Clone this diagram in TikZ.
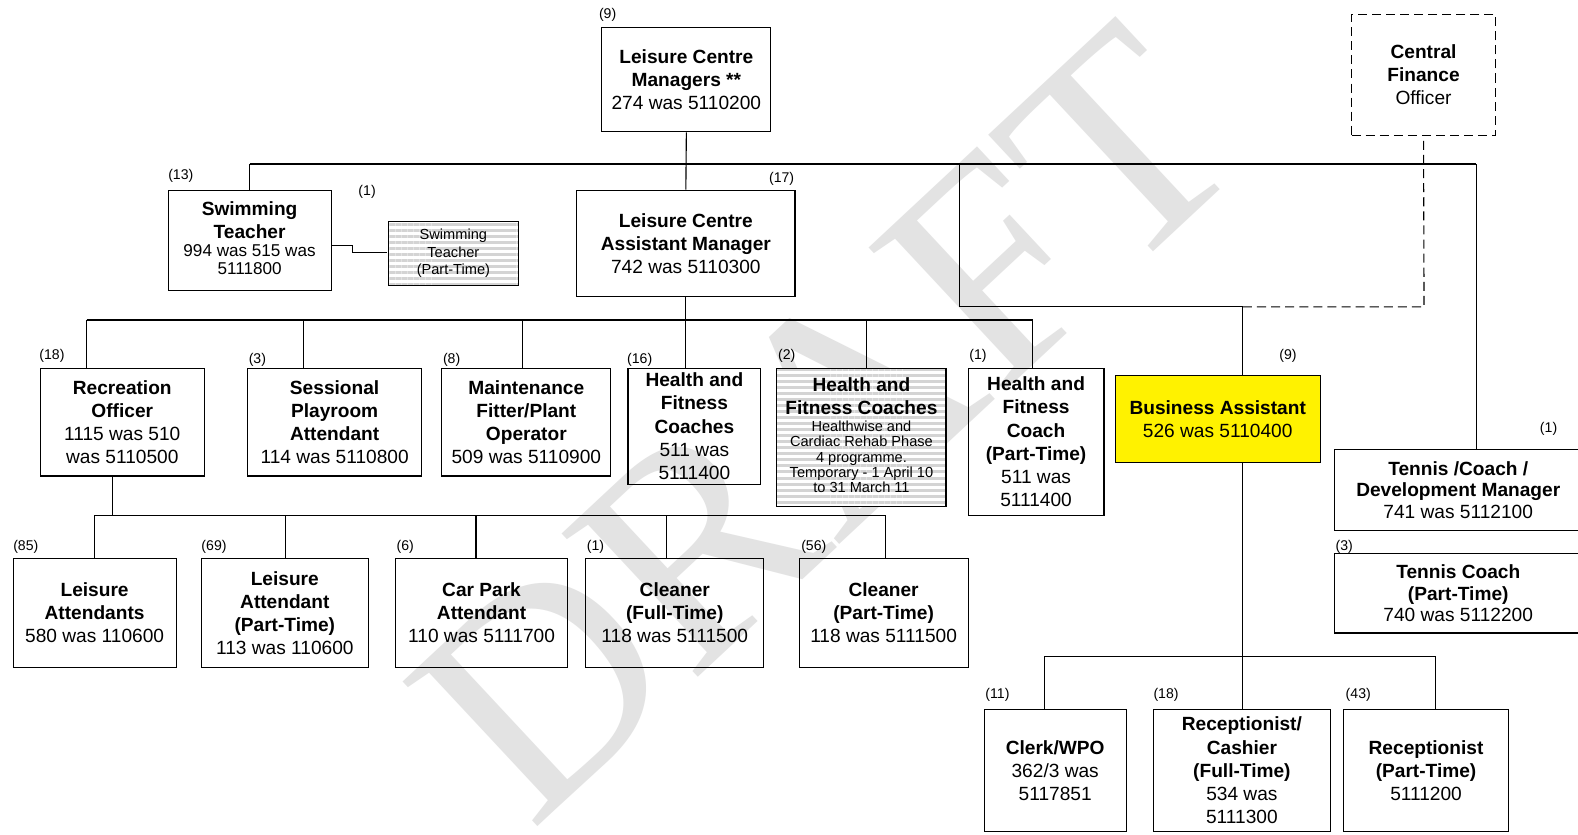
\documentclass[tikz,border=0pt]{standalone}
\usepackage{fontspec}
\setmainfont{Liberation Sans}
\newfontfamily\wmfont{Liberation Serif}
\usetikzlibrary{patterns.meta}
\tikzset{
  box/.style={draw=black, line width=1.1pt, align=center, inner sep=1pt,
    font=\fontsize{19}{23}\selectfont},
  hatch/.style={preaction={fill=white}, pattern={Lines[angle=0,distance=6pt,line width=3pt]}, pattern color=black!17},
  cnt/.style={anchor=west, inner sep=0pt, font=\fontsize{14}{16}\selectfont},
  ln/.style={draw=black, line width=1.1pt},
  dln/.style={draw=black, line width=1.1pt, dash pattern=on 9pt off 5pt}
}
\begin{document}
\begin{tikzpicture}[x=1pt,y=-1pt]
\useasboundingbox (0,0) rectangle (1568,829);
\fill[white] (0,0) rectangle (1568,829);
% watermark
\node[rotate=43, text=black!11, font=\wmfont\fontsize{300}{300}\selectfont, inner sep=0pt] (wm) at (820,420) {DRAFT};

% boxes
\node[box, minimum width=168, minimum height=104] (mgr) at (682,79) {\textbf{Leisure Centre}\\\textbf{Managers **}\\274 was 5110200};
\node[box, dln, minimum width=143, minimum height=121] (cfo) at (1414.5,74.5) {\textbf{Central}\\\textbf{Finance}\\Officer};
\node[box, minimum width=162, minimum height=100] (swim) at (248,239) {\textbf{Swimming}\\\textbf{Teacher}\\[-5pt]{\fontsize{17}{17}\selectfont\begin{tabular}[t]{@{}c@{}}994 was 515 was\\5111800\end{tabular}}};
\node[box, hatch, minimum width=129, minimum height=64, font=\fontsize{14.5}{17.5}\selectfont] (swimpt) at (450.5,252) {Swimming\\Teacher\\(Part-Time)};
\node[box, minimum width=217, minimum height=106] (asst) at (681.5,242) {\textbf{Leisure Centre}\\\textbf{Assistant Manager}\\742 was 5110300};

\node[box, minimum width=163, minimum height=107] (rec) at (121.5,419.5) {\textbf{Recreation}\\\textbf{Officer}\\1115 was 510\\was 5110500};
\node[box, minimum width=173, minimum height=107] (sess) at (332.5,419.5) {\textbf{Sessional}\\\textbf{Playroom}\\\textbf{Attendant}\\114 was 5110800};
\node[box, minimum width=168, minimum height=107] (maint) at (523,419.5) {\textbf{Maintenance}\\\textbf{Fitter/Plant}\\\textbf{Operator}\\509 was 5110900};
\node[box, minimum width=132, minimum height=115] (hfc) at (690,423.5) {\textbf{Health and}\\\textbf{Fitness}\\\textbf{Coaches}\\511 was\\5111400};
\node[box, hatch, minimum width=168, minimum height=137] (hfct) at (856,434.5) {\textbf{Health and}\\\textbf{Fitness Coaches}\\[-6pt]{\fontsize{14.5}{15}\selectfont\begin{tabular}[t]{@{}c@{}}Healthwise and\\Cardiac Rehab Phase\\4 programme.\\Temporary - 1 April 10\\to 31 March 11\end{tabular}}};
\node[box, minimum width=135, minimum height=146] (hfcpt) at (1029.5,439) {\textbf{Health and}\\\textbf{Fitness}\\\textbf{Coach}\\\textbf{(Part-Time)}\\511 was\\5111400};
\node[box, fill=yellow, minimum width=204, minimum height=87] (bus) at (1210,416.5) {\textbf{Business Assistant}\\526 was 5110400};
\node[box, minimum width=246, minimum height=80, font=\fontsize{19}{21.5}\selectfont] (ten) at (1449,487) {\textbf{Tennis /Coach /}\\\textbf{Development Manager}\\741 was 5112100};
\node[box, minimum width=246, minimum height=79, font=\fontsize{19}{21.5}\selectfont] (tenpt) at (1449,589.5) {\textbf{Tennis Coach}\\\textbf{(Part-Time)}\\740 was 5112200};

\node[box, minimum width=162, minimum height=108] (la) at (94,609) {\textbf{Leisure}\\\textbf{Attendants}\\580 was 110600};
\node[box, minimum width=166, minimum height=108] (lapt) at (283,609) {\textbf{Leisure}\\\textbf{Attendant}\\\textbf{(Part-Time)}\\113 was 110600};
\node[box, minimum width=171, minimum height=108] (cp) at (478.5,609) {\textbf{Car Park}\\\textbf{Attendant}\\110 was 5111700};
\node[box, minimum width=177, minimum height=108] (clft) at (670.5,609) {\textbf{Cleaner}\\\textbf{(Full-Time)}\\118 was 5111500};
\node[box, minimum width=168, minimum height=108] (clpt) at (878,609) {\textbf{Cleaner}\\\textbf{(Part-Time)}\\118 was 5111500};

\node[box, minimum width=141, minimum height=121] (clerk) at (1048.5,765.5) {\textbf{Clerk/WPO}\\362/3 was\\5117851};
\node[box, minimum width=176, minimum height=121] (rcft) at (1234,765.5) {\textbf{Receptionist/}\\\textbf{Cashier}\\\textbf{(Full-Time)}\\534 was\\5111300};
\node[box, minimum width=164, minimum height=121] (rcpt) at (1417,765.5) {\textbf{Receptionist}\\\textbf{(Part-Time)}\\5111200};

% counts
\node[cnt] (c1) at (595,15) {(9)};
\node[cnt] (c2) at (167,175) {(13)};
\node[cnt] (c3) at (356,191) {(1)};
\node[cnt] (c4) at (764,178) {(17)};
\node[cnt] (c5) at (39,354) {(18)};
\node[cnt] (c6) at (247,358) {(3)};
\node[cnt] (c7) at (440,358) {(8)};
\node[cnt] (c8) at (623,358) {(16)};
\node[cnt] (c9) at (773,354) {(2)};
\node[cnt] (c10) at (963,354) {(1)};
\node[cnt] (c11) at (1271,354) {(9)};
\node[cnt] (c12) at (1530,426) {(1)};
\node[cnt] (c13) at (1327,543) {(3)};
\node[cnt] (c14) at (13,543) {(85)};
\node[cnt] (c15) at (200,543) {(69)};
\node[cnt] (c16) at (394,543) {(6)};
\node[cnt] (c17) at (583,543) {(1)};
\node[cnt] (c18) at (796,543) {(56)};
\node[cnt] (c19) at (979,690) {(11)};
\node[cnt] (c20) at (1146,690) {(18)};
\node[cnt] (c21) at (1337,690) {(43)};

% junction coordinates
\coordinate (b1L) at (248,163);
\coordinate (b1R) at (1467,163);
\coordinate (bx1) at (953,163);
\coordinate (bx2) at (953,305);
\coordinate (bx3) at (1235,305);
\coordinate (bx4) at (1415,305);
\coordinate (b2L) at (86,318);
\coordinate (b2R) at (1026,318);
\coordinate (d2b) at (302,318);
\coordinate (d2c) at (519,318);
\coordinate (d2e) at (861,318);
\coordinate (r3) at (112,473);
\coordinate (b3L) at (94,512);
\coordinate (b3R) at (880,512);
\coordinate (d3b) at (284,512);
\coordinate (d3c) at (473,512);
\coordinate (d3d) at (662,512);
\coordinate (b4L) at (1038,652);
\coordinate (b4R) at (1426,652);
\coordinate (s1) at (350,244);
\coordinate (s2) at (350,251);

% connectors
\draw[ln] (mgr.south) -- (asst.north);
\draw[ln] (b1L) -- (b1R);
\draw[ln] (b1L) -- (swim.north);
\draw[ln] (b1R) -- (b1R |- ten.north);
\draw[ln] (bx1) -- (bx2) -- (bx3) -- (bx3 |- bus.north);
\draw[dln] (bx3) -- (bx4) -- (cfo.south);
\draw[ln] (swim.east |- s1) -- (s1) -- (s2) -- (swimpt.west |- s2);

\draw[ln] (b2L) -- (b2R);
\draw[ln] (asst.south) -- (asst.south |- hfc.north);
\draw[ln] (b2L) -- (b2L |- rec.north);
\draw[ln] (d2b) -- (d2b |- sess.north);
\draw[ln] (d2c) -- (d2c |- maint.north);
\draw[ln] (d2e) -- (d2e |- hfct.north);
\draw[ln] (b2R) -- (b2R |- hfcpt.north);

\draw[ln] (r3) -- (r3 |- b3L);
\draw[ln] (b3L) -- (b3R);
\draw[ln] (b3L) -- (b3L |- la.north);
\draw[ln] (d3b) -- (d3b |- lapt.north);
\draw[ln] (d3c) -- (d3c |- cp.north);
\draw[ln] (d3d) -- (d3d |- clft.north);
\draw[ln] (b3R) -- (b3R |- clpt.north);

\draw[ln] (bus.south -| bx3) -- (bx3 |- rcft.north);
\draw[ln] (b4L) -- (b4R);
\draw[ln] (b4L) -- (b4L |- clerk.north);
\draw[ln] (b4R) -- (b4R |- rcpt.north);
\end{tikzpicture}
\end{document}
